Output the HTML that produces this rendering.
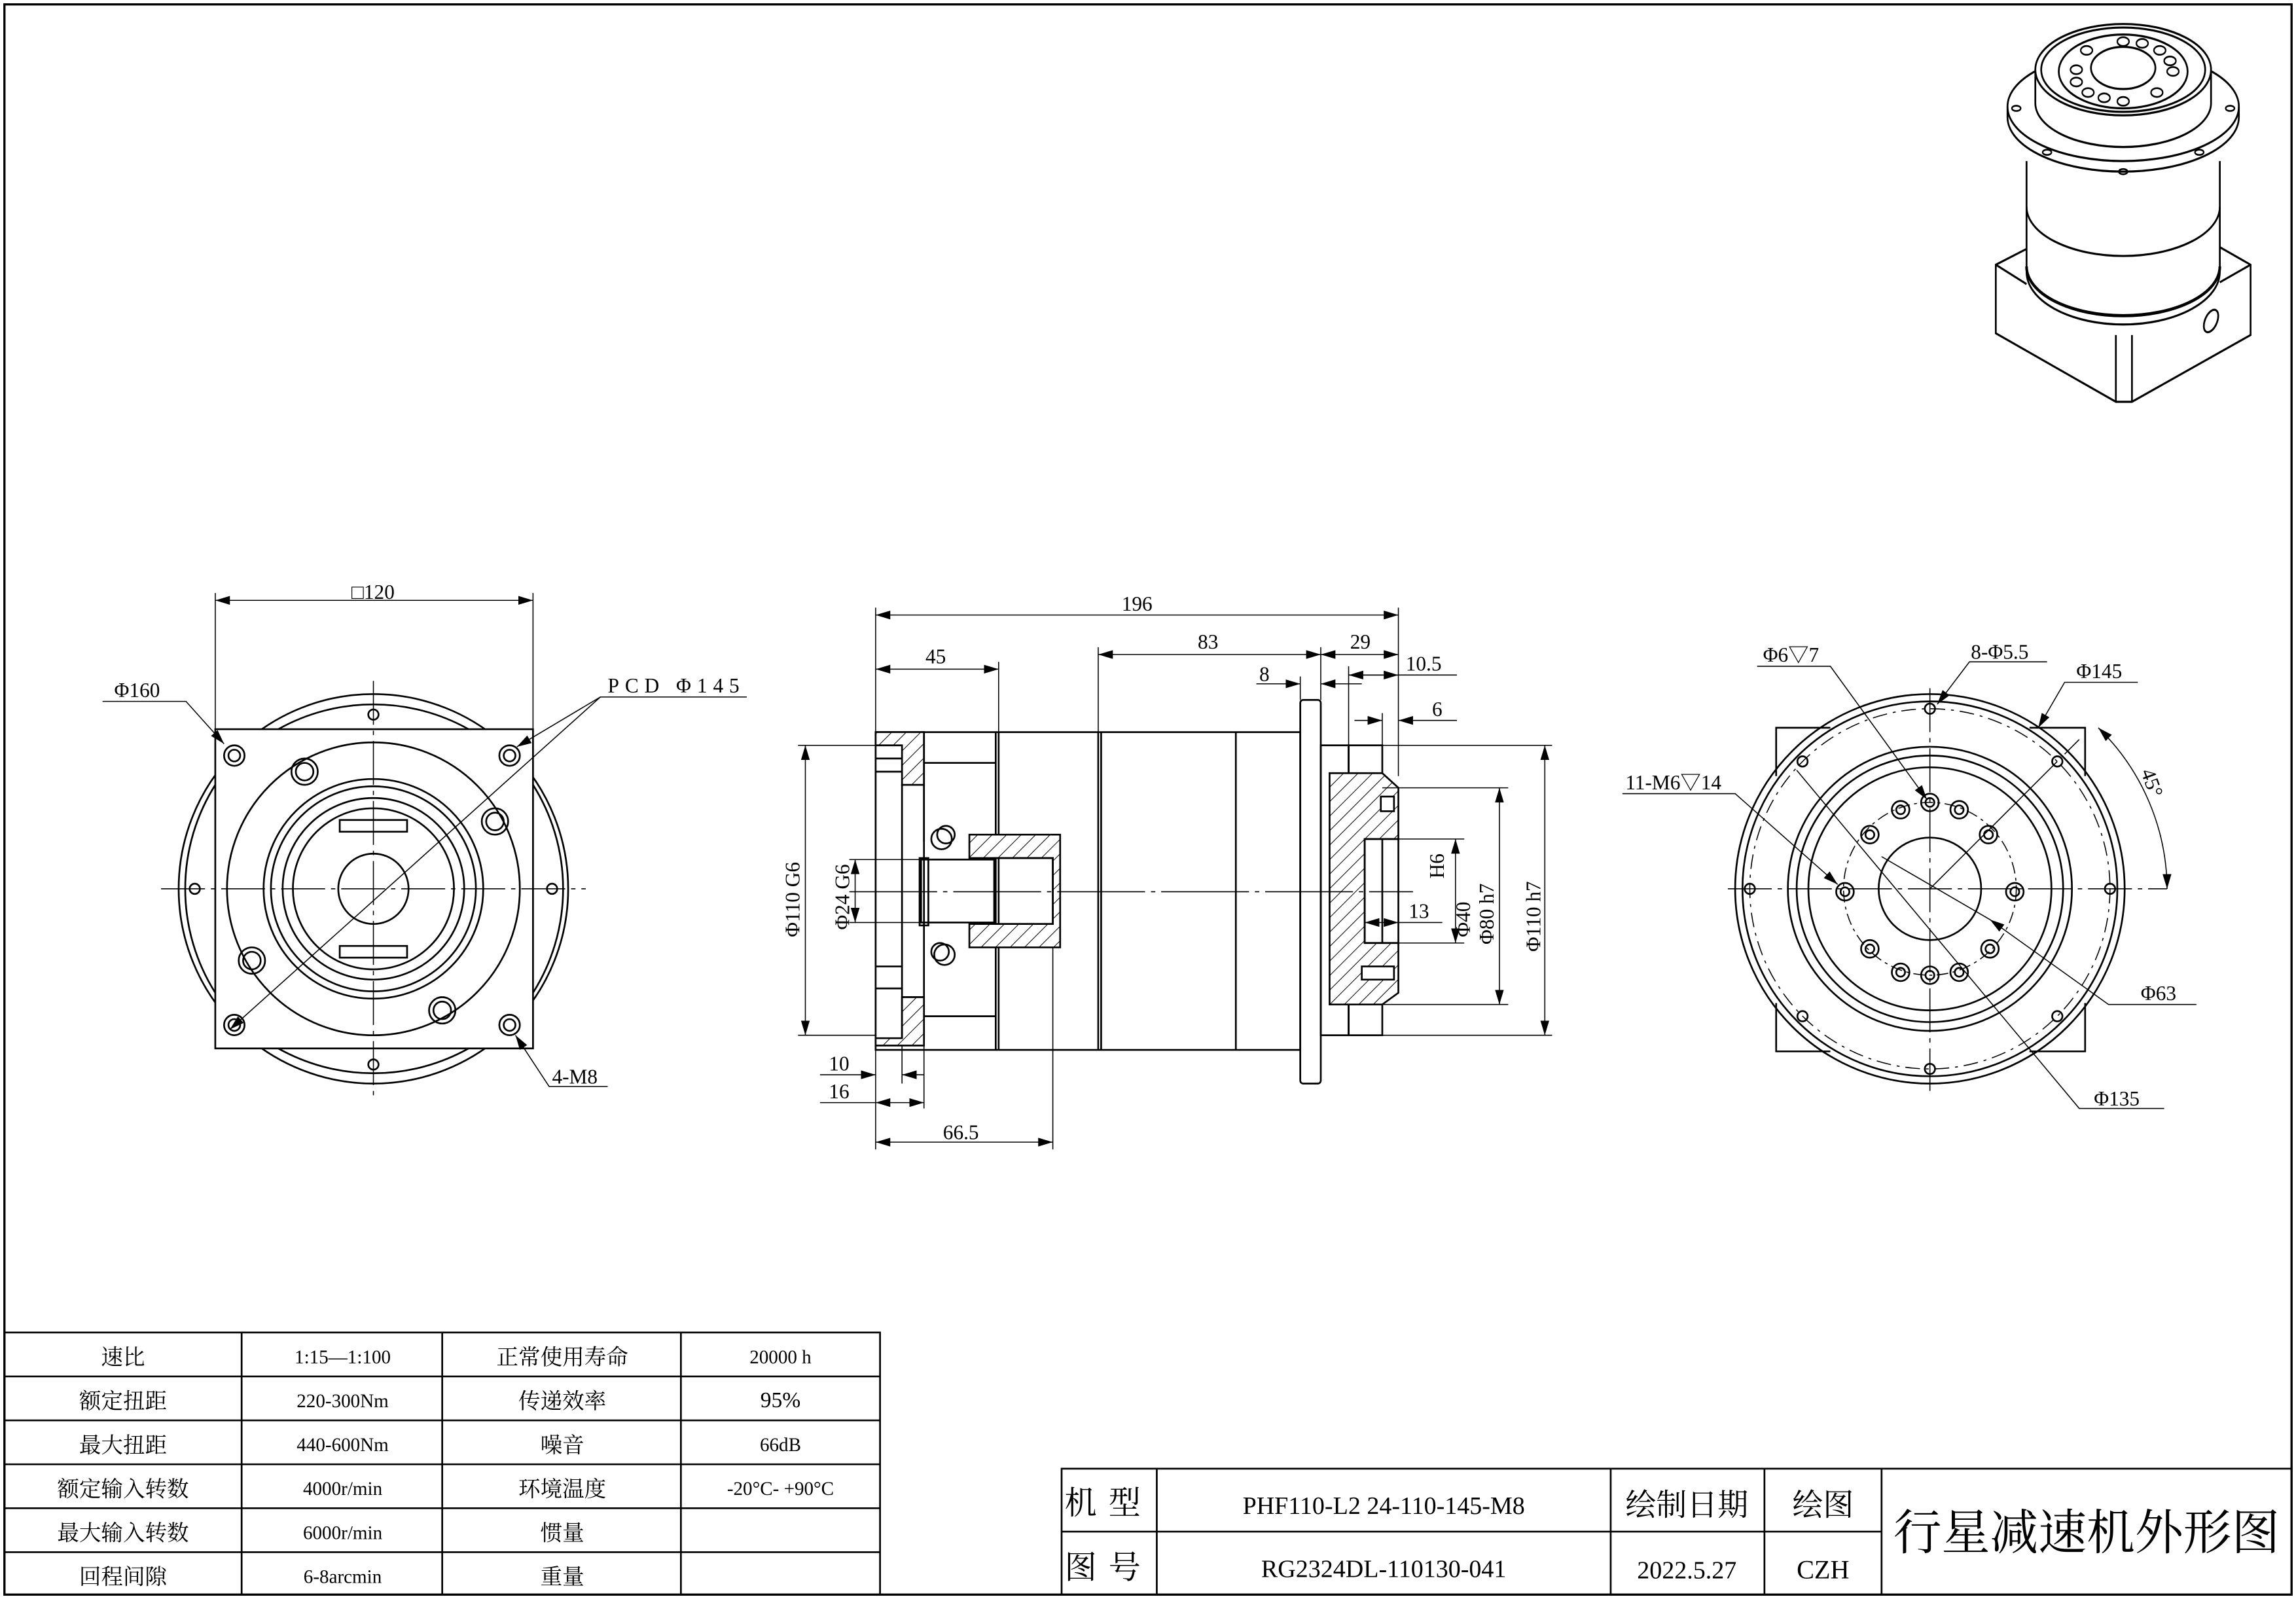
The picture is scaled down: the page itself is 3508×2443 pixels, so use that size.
<!DOCTYPE html>
<html><head><meta charset="utf-8">
<style>
html,body{margin:0;padding:0;background:#fff;}
svg{display:block;}
text{font-family:"Liberation Serif","Noto Serif CJK SC","Noto Sans CJK SC",serif;fill:#000;}
.c{font-family:"Liberation Sans","Noto Sans CJK SC",sans-serif;}
</style></head><body>
<svg width="3508" height="2443" viewBox="0 0 1568 1092" xmlns="http://www.w3.org/2000/svg">
<defs>
<pattern id="h" patternUnits="userSpaceOnUse" width="7" height="7" patternTransform="rotate(45)">
<rect width="7" height="7" fill="#fff"/><line x1="0" y1="0" x2="0" y2="7" stroke="#000" stroke-width="0.9"/></pattern>
<marker id="a" viewBox="0 0 10 6" refX="10" refY="3" markerWidth="10" markerHeight="6" orient="auto-start-reverse" markerUnits="userSpaceOnUse"><path d="M0,0 L10,3 L0,6z" fill="#000"/></marker>
</defs>
<g fill="none" stroke="#000" stroke-width="1.2">
<rect x="3" y="3" width="1562" height="1086" stroke-width="1.5"/>

<!-- LEFT VIEW -->
<g>
<circle cx="255" cy="607" r="133"/>
<rect x="147" y="498" width="217" height="218" fill="#fff"/>
<path d="M147,536 A133,133 0 0 0 147,678" />
<path d="M364,536 A133,133 0 0 1 364,678"/>
<path d="M190,498 A133,133 0 0 1 320,498"/>
<path d="M190,716 A133,133 0 0 0 320,716"/>
<circle cx="255" cy="607" r="100"/>
<circle cx="255" cy="607" r="75"/>
<circle cx="255" cy="607" r="70"/>
<circle cx="255" cy="607" r="62"/>
<circle cx="255" cy="607" r="55"/>
<circle cx="255" cy="607" r="24"/>
<rect x="232" y="560" width="46" height="8"/><rect x="232" y="646" width="46" height="8"/>
<circle cx="160" cy="516" r="7"/><circle cx="160" cy="516" r="4"/>
<circle cx="348" cy="516" r="7"/><circle cx="348" cy="516" r="4"/>
<circle cx="160" cy="700" r="7"/><circle cx="160" cy="700" r="4"/>
<circle cx="348" cy="700" r="7"/><circle cx="348" cy="700" r="4"/>
<circle cx="208" cy="527" r="9"/><circle cx="208" cy="527" r="6"/>
<circle cx="338" cy="561" r="9"/><circle cx="338" cy="561" r="6"/>
<circle cx="172" cy="656" r="9"/><circle cx="172" cy="656" r="6"/>
<circle cx="302" cy="690" r="9"/><circle cx="302" cy="690" r="6"/>
<circle cx="133" cy="607" r="3.5"/><circle cx="377" cy="607" r="3.5"/>
<circle cx="255" cy="488" r="3.5"/><circle cx="255" cy="727" r="3.5"/>
<line x1="110" y1="607" x2="400" y2="607" stroke-width="0.7" stroke-dasharray="30,4,3,4"/>
<line x1="255" y1="465" x2="255" y2="750" stroke-width="0.7" stroke-dasharray="30,4,3,4"/>
<line x1="147" y1="498" x2="147" y2="405" stroke-width="0.7"/>
<line x1="364" y1="498" x2="364" y2="405" stroke-width="0.7"/>
<line x1="147" y1="410" x2="364" y2="410" stroke-width="0.7" marker-start="url(#a)" marker-end="url(#a)"/>
<polyline points="70,479 127,479 153,508" stroke-width="0.7" marker-end="url(#a)"/>
<polyline points="510,476 410,476 157,703" stroke-width="0.7" marker-end="url(#a)"/>
<line x1="410" y1="476" x2="353" y2="510" stroke-width="0.7" marker-end="url(#a)"/>
<polyline points="415,742 375,742 352,707" stroke-width="0.7" marker-end="url(#a)"/>
</g>
<g stroke="none">
<text x="240" y="409" font-size="14">□120</text>
<text x="78" y="476" font-size="14">Φ160</text>
<text x="415" y="473" font-size="14" letter-spacing="4">PCD Φ145</text>
<text x="377" y="740" font-size="14">4-M8</text>
</g>

<!-- MIDDLE VIEW -->
<g>
<rect x="598" y="500" width="290" height="217"/>
<line x1="682" y1="500" x2="682" y2="717"/><line x1="680" y1="500" x2="680" y2="717"/>
<line x1="750" y1="500" x2="750" y2="717"/><line x1="752" y1="500" x2="752" y2="717"/>
<line x1="844" y1="500" x2="844" y2="717"/>
<rect x="888" y="478" width="14" height="262" rx="2"/>
<path d="M598,500 L631,500 L631,536 L616,536 L616,709 L631,709 L631,681 L616,681" />
<path d="M598,500 L631,500 L631,536 L616,536 L616,509 L598,509z" fill="url(#h)"/>
<path d="M616,681 L631,681 L631,714 L598,714 L598,709 L616,709z" fill="url(#h)"/>
<line x1="598" y1="518" x2="616" y2="518"/><line x1="598" y1="527" x2="616" y2="527"/>
<line x1="598" y1="660" x2="616" y2="660"/><line x1="598" y1="675" x2="616" y2="675"/>
<line x1="631" y1="536" x2="631" y2="681"/>
<line x1="631" y1="521" x2="680" y2="521"/><line x1="631" y1="694" x2="680" y2="694"/>
<line x1="631" y1="502" x2="631" y2="575"/>
<rect x="628" y="586" width="6" height="46"/>
<rect x="629" y="587" width="50" height="43"/>
<circle cx="646" cy="570" r="6"/><circle cx="643" cy="573" r="7"/>
<circle cx="642" cy="650" r="6"/><circle cx="645" cy="652" r="7"/>
<path d="M662,570 L724,570 L724,647 L662,647 L662,631 L719,631 L719,586 L662,586z" fill="url(#h)"/>
<rect x="679" y="586" width="40" height="45"/>
<rect x="902" y="509" width="19" height="198"/>
<rect x="921" y="509" width="23" height="198"/>
<path d="M908,528 L944,528 L955,538 L955,573 L932,573 L932,644 L955,644 L955,678 L944,686 L908,686z" fill="url(#h)"/>
<rect x="932" y="573" width="23" height="71"/>
<rect x="943" y="544" width="9" height="10" fill="#fff"/>
<rect x="930" y="660" width="22" height="9" fill="#fff"/>
<line x1="580" y1="609" x2="965" y2="609" stroke-width="0.7" stroke-dasharray="60,4,3,4"/>
<g stroke-width="0.7">
<line x1="598" y1="500" x2="598" y2="415"/><line x1="955" y1="530" x2="955" y2="415"/>
<line x1="598" y1="420" x2="955" y2="420" marker-start="url(#a)" marker-end="url(#a)"/>
<line x1="682" y1="500" x2="682" y2="452"/>
<line x1="598" y1="457" x2="682" y2="457" marker-start="url(#a)" marker-end="url(#a)"/>
<line x1="750" y1="500" x2="750" y2="442"/><line x1="902" y1="478" x2="902" y2="442"/>
<line x1="750" y1="447" x2="902" y2="447" marker-start="url(#a)" marker-end="url(#a)"/>
<line x1="902" y1="447" x2="955" y2="447" marker-start="url(#a)" marker-end="url(#a)"/>
<line x1="888" y1="478" x2="888" y2="462"/>
<line x1="858" y1="467" x2="888" y2="467" marker-end="url(#a)"/><line x1="930" y1="467" x2="902" y2="467" marker-end="url(#a)"/>
<line x1="921" y1="509" x2="921" y2="455"/>
<line x1="995" y1="461" x2="921" y2="461"/>
<line x1="955" y1="461" x2="921" y2="461" marker-start="url(#a)" marker-end="url(#a)"/>
<line x1="944" y1="509" x2="944" y2="487"/>
<line x1="925" y1="492" x2="944" y2="492" marker-end="url(#a)"/><line x1="995" y1="492" x2="955" y2="492" marker-end="url(#a)"/>
<line x1="598" y1="509" x2="545" y2="509"/><line x1="598" y1="707" x2="545" y2="707"/>
<line x1="550" y1="509" x2="550" y2="707" marker-start="url(#a)" marker-end="url(#a)"/>
<line x1="629" y1="587" x2="580" y2="587"/><line x1="629" y1="630" x2="580" y2="630"/>
<line x1="584" y1="587" x2="584" y2="630" marker-start="url(#a)" marker-end="url(#a)"/>
<line x1="944" y1="538" x2="1030" y2="538"/><line x1="944" y1="686" x2="1030" y2="686"/>
<line x1="1024" y1="538" x2="1024" y2="686" marker-start="url(#a)" marker-end="url(#a)"/>
<line x1="955" y1="573" x2="1000" y2="573"/><line x1="955" y1="644" x2="1000" y2="644"/>
<line x1="994" y1="573" x2="994" y2="644" marker-start="url(#a)" marker-end="url(#a)"/>
<line x1="944" y1="509" x2="1060" y2="509"/><line x1="944" y1="707" x2="1060" y2="707"/>
<line x1="1055" y1="509" x2="1055" y2="707" marker-start="url(#a)" marker-end="url(#a)"/>
<line x1="932" y1="630" x2="955" y2="630" marker-start="url(#a)" marker-end="url(#a)"/>
<line x1="955" y1="630" x2="985" y2="630"/>
<line x1="598" y1="717" x2="598" y2="785"/><line x1="616" y1="714" x2="616" y2="740"/><line x1="631" y1="714" x2="631" y2="757"/>
<line x1="560" y1="734" x2="598" y2="734" marker-end="url(#a)"/><line x1="631" y1="734" x2="616" y2="734" marker-end="url(#a)"/>
<line x1="560" y1="753" x2="598" y2="753"/>
<line x1="598" y1="753" x2="631" y2="753" marker-start="url(#a)" marker-end="url(#a)"/>
<line x1="719" y1="647" x2="719" y2="785"/>
<line x1="598" y1="780" x2="719" y2="780" marker-start="url(#a)" marker-end="url(#a)"/>
</g>
</g>
<g stroke="none" font-size="14">
<text x="766" y="417">196</text>
<text x="632" y="453">45</text>
<text x="818" y="443">83</text>
<text x="922" y="443">29</text>
<text x="860" y="465">8</text>
<text x="960" y="458">10.5</text>
<text x="978" y="489">6</text>
<text x="644" y="778">66.5</text>
<text x="566" y="731">10</text>
<text x="566" y="750">16</text>
<text x="962" y="627">13</text>
<text transform="translate(546,640) rotate(-90)">Φ110 G6</text>
<text transform="translate(580,635) rotate(-90)">Φ24 G6</text>
<text transform="translate(986,600) rotate(-90)">H6</text>
<text transform="translate(1004,640) rotate(-90)">Φ40</text>
<text transform="translate(1020,645) rotate(-90)">Φ80 h7</text>
<text transform="translate(1052,650) rotate(-90)">Φ110 h7</text>
</g>

<!-- RIGHT VIEW -->
<g>
<circle cx="1318" cy="607" r="133"/>
<path d="M1213,530 L1213,497 L1250,497 M1386,497 L1424,497 L1424,530 M1424,685 L1424,718 L1386,718 M1250,718 L1213,718 L1213,685"/>
<circle cx="1318" cy="607" r="128"/>
<circle cx="1318" cy="607" r="97"/>
<circle cx="1318" cy="607" r="91"/>
<circle cx="1318" cy="607" r="83"/>
<circle cx="1318" cy="607" r="35"/>
<circle cx="1318" cy="607" r="59" stroke-width="0.7" stroke-dasharray="8,3,2,3"/>
<circle cx="1318" cy="607" r="123" stroke-width="0.7" stroke-dasharray="10,4,2,4"/>
<g>
<circle cx="1318" cy="548" r="6"/><circle cx="1318" cy="548" r="3"/>
<circle cx="1298" cy="553" r="6"/><circle cx="1298" cy="553" r="3"/>
<circle cx="1338" cy="553" r="6"/><circle cx="1338" cy="553" r="3"/>
<circle cx="1358" cy="570" r="6"/><circle cx="1358" cy="570" r="3"/>
<circle cx="1277" cy="570" r="6"/><circle cx="1277" cy="570" r="3"/>
<circle cx="1376" cy="609" r="6"/><circle cx="1376" cy="609" r="3"/>
<circle cx="1260" cy="609" r="6"/><circle cx="1260" cy="609" r="3"/>
<circle cx="1277" cy="648" r="6"/><circle cx="1277" cy="648" r="3"/>
<circle cx="1359" cy="648" r="6"/><circle cx="1359" cy="648" r="3"/>
<circle cx="1298" cy="664" r="6"/><circle cx="1298" cy="664" r="3"/>
<circle cx="1318" cy="666" r="6"/><circle cx="1318" cy="666" r="3"/>
<circle cx="1338" cy="664" r="6"/><circle cx="1338" cy="664" r="3"/>
</g>
<g>
<circle cx="1318" cy="484" r="3.5"/><circle cx="1318" cy="730" r="3.5"/>
<circle cx="1195" cy="607" r="3.5"/><circle cx="1441" cy="607" r="3.5"/>
<circle cx="1231" cy="520" r="3.5"/><circle cx="1405" cy="520" r="3.5"/>
<circle cx="1231" cy="694" r="3.5"/><circle cx="1405" cy="694" r="3.5"/>
</g>
<line x1="1180" y1="607" x2="1480" y2="607" stroke-width="0.7" stroke-dasharray="30,4,3,4"/>
<line x1="1318" y1="470" x2="1318" y2="745" stroke-width="0.7" stroke-dasharray="30,4,3,4"/>
<g stroke-width="0.7">
<polyline points="1200,455 1250,455 1316,546" marker-end="url(#a)"/>
<polyline points="1398,452 1345,452 1323,481" marker-end="url(#a)"/>
<polyline points="1460,466 1410,466 1392,497" marker-end="url(#a)"/>
<polyline points="1108,542 1185,542 1255,604" marker-end="url(#a)"/>
<polyline points="1500,686 1440,686 1359,628" marker-end="url(#a)"/>
<line x1="1359" y1="628" x2="1285" y2="585"/>
<polyline points="1478,757 1420,757 1227,526"/>
<path d="M1410,515 L1420,505" />
<line x1="1318" y1="607" x2="1405" y2="520" />
<path d="M1433,497 A155,155 0 0 1 1480,607" marker-start="url(#a)" marker-end="url(#a)"/>
</g>
</g>
<g stroke="none" font-size="14">
<text x="1204" y="452">Φ6▽7</text>
<text x="1346" y="450">8-Φ5.5</text>
<text x="1418" y="463">Φ145</text>
<text x="1110" y="539">11-M6▽14</text>
<text x="1462" y="683">Φ63</text>
<text x="1430" y="755">Φ135</text>
<text transform="translate(1462,527) rotate(70)">45°</text>
</g>

<!-- 3D VIEW -->
<g stroke-width="1.2" transform="translate(0,20) scale(1,1.2) translate(0,-20)">
<path d="M1384,145 L1363,154 L1363,193 L1445,232 L1456,232 L1537,194 L1537,154 L1516,144"/>
<path d="M1363,154 L1384,165 M1537,154 L1516,164"/>
<line x1="1445" y1="194" x2="1445" y2="232"/><line x1="1456" y1="194" x2="1456" y2="232"/>
<ellipse cx="1510" cy="186" rx="4" ry="7" transform="rotate(30 1510 186)"/>
<path d="M1384,95 L1384,158 A66,30 0 0 0 1516,158 L1516,95" fill="#fff"/>
<path d="M1384,121 A66,28 0 0 0 1516,121"/>
<path d="M1384,155 A66,28 0 0 0 1516,155" stroke-width="1.8"/>
<ellipse cx="1450" cy="64" rx="79" ry="31" fill="#fff"/>
<path d="M1371,64 L1371,70 A79,31 0 0 0 1529,70 L1529,64"/>
<path d="M1390,43 L1390,62 A60,25 0 0 0 1510,62 L1510,43" fill="#fff"/>
<ellipse cx="1450" cy="43" rx="60" ry="26" fill="#fff"/>
<ellipse cx="1450" cy="43" rx="56" ry="24"/>
<ellipse cx="1450" cy="44" rx="44" ry="21"/>
<ellipse cx="1450" cy="42" rx="22" ry="12"/>
<g stroke-width="1"><ellipse cx="1425" cy="32" rx="4" ry="2.5"/><ellipse cx="1450" cy="27" rx="4" ry="2.5"/><ellipse cx="1463" cy="28" rx="4" ry="2.5"/><ellipse cx="1475" cy="32" rx="4" ry="2.5"/><ellipse cx="1482" cy="38" rx="4" ry="2.5"/><ellipse cx="1484" cy="44" rx="4" ry="2.5"/><ellipse cx="1418" cy="43" rx="4" ry="2.5"/><ellipse cx="1418" cy="50" rx="4" ry="2.5"/><ellipse cx="1426" cy="56" rx="4" ry="2.5"/><ellipse cx="1437" cy="59" rx="4" ry="2.5"/><ellipse cx="1450" cy="61" rx="4" ry="2.5"/><ellipse cx="1473" cy="56" rx="4" ry="2.5"/>
<ellipse cx="1377" cy="65" rx="3" ry="1.5"/><ellipse cx="1523" cy="65" rx="3" ry="1.5"/><ellipse cx="1398" cy="90" rx="3" ry="1.5"/><ellipse cx="1502" cy="90" rx="3" ry="1.5"/><ellipse cx="1450" cy="101" rx="3" ry="1.5"/></g>
</g>

<!-- SPEC TABLE -->
<g stroke-width="1.2">
<rect x="3" y="910" width="598" height="179"/>
<line x1="3" y1="940" x2="601" y2="940"/><line x1="3" y1="970" x2="601" y2="970"/>
<line x1="3" y1="1000" x2="601" y2="1000"/><line x1="3" y1="1030" x2="601" y2="1030"/>
<line x1="3" y1="1060" x2="601" y2="1060"/>
<line x1="165" y1="910" x2="165" y2="1089"/><line x1="302" y1="910" x2="302" y2="1089"/><line x1="465" y1="910" x2="465" y2="1089"/>
</g>
<g stroke="none" font-size="15" text-anchor="middle" class="c">
<text x="84" y="932">速比</text><text x="84" y="962">额定扭距</text><text x="84" y="992">最大扭距</text>
<text x="84" y="1022">额定输入转数</text><text x="84" y="1052">最大输入转数</text><text x="84" y="1082">回程间隙</text>
<text x="234" y="931" font-size="13">1:15—1:100</text><text x="234" y="961" font-size="13">220-300Nm</text>
<text x="234" y="991" font-size="13">440-600Nm</text><text x="234" y="1021" font-size="13">4000r/min</text>
<text x="234" y="1051" font-size="13">6000r/min</text><text x="234" y="1081" font-size="13">6-8arcmin</text>
<text x="384" y="932">正常使用寿命</text><text x="384" y="962">传递效率</text><text x="384" y="992">噪音</text>
<text x="384" y="1022">环境温度</text><text x="384" y="1052">惯量</text><text x="384" y="1082">重量</text>
<text x="533" y="931" font-size="13">20000 h</text><text x="533" y="961" font-size="15">95%</text>
<text x="533" y="991" font-size="13">66dB</text><text x="533" y="1021" font-size="13">-20°C- +90°C</text>
</g>

<!-- TITLE BLOCK -->
<g stroke-width="1.2">
<rect x="725" y="1003" width="840" height="86"/>
<line x1="725" y1="1046" x2="1285" y2="1046"/>
<line x1="790" y1="1003" x2="790" y2="1089"/><line x1="1100" y1="1003" x2="1100" y2="1089"/>
<line x1="1205" y1="1003" x2="1205" y2="1089"/><line x1="1285" y1="1003" x2="1285" y2="1089"/>
</g>
<g stroke="none" class="c">
<text x="757" y="1034" font-size="22" text-anchor="middle" letter-spacing="8">机型</text>
<text x="757" y="1078" font-size="22" text-anchor="middle" letter-spacing="8">图号</text>
<text x="945" y="1034" font-size="17" text-anchor="middle">PHF110-L2 24-110-145-M8</text>
<text x="945" y="1077" font-size="17" text-anchor="middle">RG2324DL-110130-041</text>
<text x="1152" y="1035" font-size="21" text-anchor="middle">绘制日期</text>
<text x="1152" y="1078" font-size="17" text-anchor="middle">2022.5.27</text>
<text x="1245" y="1035" font-size="21" text-anchor="middle">绘图</text>
<text x="1245" y="1078" font-size="18" text-anchor="middle">CZH</text>
<text x="1425" y="1058" font-size="33" text-anchor="middle">行星减速机外形图</text>
</g>
</g>
</svg>
</body></html>
